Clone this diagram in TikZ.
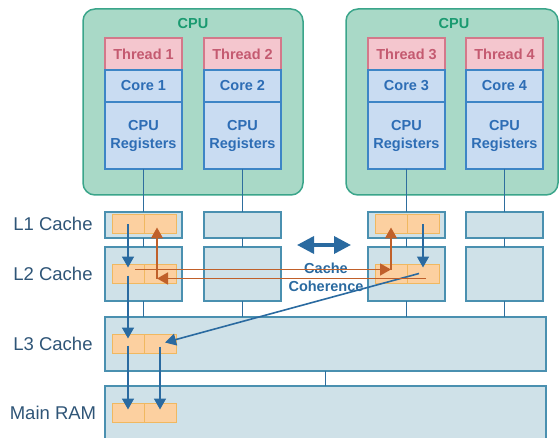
\documentclass[tikz,border=0pt]{standalone}
\usepackage{fontspec}
\setmainfont{Liberation Sans}
\usetikzlibrary{arrows.meta,calc}

\definecolor{cpufill}{HTML}{A9D9C7}
\definecolor{cpuline}{HTML}{3AA58A}
\definecolor{cputext}{HTML}{1A9A70}
\definecolor{thrfill}{HTML}{F4C6CE}
\definecolor{thrline}{HTML}{D4788A}
\definecolor{thrtext}{HTML}{C45A70}
\definecolor{corefill}{HTML}{C9DCF2}
\definecolor{coreline}{HTML}{3D85C6}
\definecolor{coretext}{HTML}{2D6DB5}
\definecolor{cachefill}{HTML}{CFE1E8}
\definecolor{cacheline}{HTML}{4A90B0}
\definecolor{linkline}{HTML}{2E6E9E}
\definecolor{cellfill}{HTML}{FCD0A0}
\definecolor{cellline}{HTML}{F0B860}
\definecolor{bluearrow}{HTML}{2A6AA0}
\definecolor{orangearrow}{HTML}{C0602A}
\definecolor{labeltext}{HTML}{2F5577}

\begin{document}
\begin{tikzpicture}[x=1pt,y=-1pt,
  every node/.style={inner sep=0pt,outer sep=0pt},
  cpubox/.style={draw=cpuline,fill=cpufill,line width=1.5pt,rounded corners=12pt},
  cpulabel/.style={text=cputext,font=\fontsize{14.5}{18}\selectfont\bfseries},
  thrbox/.style={draw=thrline,fill=thrfill,line width=1.3pt,minimum width=77pt,minimum height=32pt,anchor=north west,
    text=thrtext,font=\fontsize{14.5}{18}\selectfont\bfseries},
  corebox/.style={draw=coreline,fill=corefill,line width=1.3pt,minimum width=77pt,minimum height=32pt,anchor=north west,
    text=coretext,font=\fontsize{14.5}{18}\selectfont\bfseries},
  regbox/.style={corebox,minimum height=67pt,align=center},
  l1box/.style={draw=cacheline,fill=cachefill,line width=1.3pt,minimum width=77pt,minimum height=26pt,anchor=north west},
  l2box/.style={l1box,minimum height=54pt},
  bigbox/.style={draw=cacheline,fill=cachefill,line width=1.3pt,minimum width=441pt,anchor=north west},
  cell/.style={draw=cellline,fill=cellfill,line width=1pt,minimum width=32pt,minimum height=19pt,anchor=north west},
  link/.style={draw=linkline,line width=1.4pt},
  levellabel/.style={text=labeltext,font=\fontsize{18.5}{22}\selectfont},
  blueflow/.style={draw=bluearrow,line width=1.6pt,-{Triangle[width=12pt,length=11pt]}},
  orangeflow/.style={draw=orangearrow,line width=1.6pt,-{Triangle[width=12pt,length=11pt]}},
  cohtext/.style={text=bluearrow,font=\fontsize{14.5}{18}\selectfont\bfseries,align=center}
]
\useasboundingbox (0,0) rectangle (559,438);

% CPU packages
\draw[cpubox] (83,9) rectangle (303,195);
\draw[cpubox] (346,9) rectangle (558,195);
\node[cpulabel] (cpuA) at (193,24) {CPU};
\node[cpulabel] (cpuB) at (454,24) {CPU};

% threads, cores and registers
\foreach \i/\x in {1/105,2/204,3/368,4/466}{
  \node[thrbox] (thr\i) at (\x,38) {Thread \i};
  \node[corebox] (core\i) at (\x,70) {Core \i};
  \node[regbox] (reg\i) at (\x,102) {CPU\\Registers};
}

% private L1 / L2 caches
\foreach \i/\x in {1/105,2/204,3/368,4/466}{
  \node[l1box] (l1\i) at (\x,212) {};
  \node[l2box] (l2\i) at (\x,247) {};
}

% shared L3 and main memory
\node[bigbox,minimum height=54pt] (l3) at (105,317) {};
\node[bigbox,minimum height=70pt] (ram) at (105,386) {};

% links between the levels
\foreach \i in {1,2,3,4}{
  \draw[link] (reg\i.south) -- (l1\i.north);
  \draw[link] (l1\i.south) -- (l2\i.north);
  \draw[link] (l2\i.south) -- (l2\i.south |- l3.north);
}
\draw[link] (l3.south) -- (ram.north);

% cache lines holding the shared data
\node[cell] (c11) at (112,215) {};
\node[cell] (c12) at (144,215) {};
\node[cell] (c21) at (112,264) {};
\node[cell] (c22) at (144,264) {};
\node[cell] (d11) at (375,215) {};
\node[cell] (d12) at (407,215) {};
\node[cell] (d21) at (375,264) {};
\node[cell] (d22) at (407,264) {};
\node[cell] (c31) at (112,334) {};
\node[cell] (c32) at (144,334) {};
\node[cell] (m1) at (112,403) {};
\node[cell] (m2) at (144,403) {};

% level names
\node[levellabel] (lab1) at (53,224) {L1 Cache};
\node[levellabel] (lab2) at (53,274) {L2 Cache};
\node[levellabel] (lab3) at (53,344) {L3 Cache};
\node[levellabel] (lab4) at (53,413) {Main RAM};

% coherence marker
\node[cohtext] (coh) at (326,277) {Cache\\Coherence};
\coordinate (ccl) at (297,245);
\coordinate (ccr) at (351,245);
\draw[draw=bluearrow,line width=3.5pt,{Triangle[width=17pt,length=17pt]}-{Triangle[width=17pt,length=17pt]}] (ccl) -- (ccr);

% write-back flow (blue)
\draw[blueflow] (c11.center) -- ($(c21.center)+(0,-6)$);
\draw[blueflow] ($(c21.center)+(0,2)$) -- ($(c31.center)+(0,-5)$);
\draw[blueflow] ($(c31.center)+(0,2)$) -- ($(m1.center)+(0,-3)$);
\draw[blueflow] ($(c32.center)+(0,3)$) -- ($(m2.center)+(0,-3)$);
\draw[blueflow] (d12.center) -- ($(d22.center)+(0,-6)$);
\draw[blueflow] ($(d22.center)+(-4,0)$) -- ($(c32.center)+(5,-1)$);

% coherence traffic (orange)
\coordinate (oc1) at ($(d21.center)+(0,-4)$);
\coordinate (oc2) at ($(c22.center)+(-3,5)$);
\draw[orangeflow] ($(c21.center)+(7,-4)$) -- (oc1);
\draw[orangeflow] (oc1) -- ($(d11.center)+(0,3)$);
\draw[orangeflow] ($(d22.center)+(3,5)$) -- (oc2);
\draw[orangeflow] (oc2) -- ($(c12.center)+(-3,3)$);
\end{tikzpicture}
\end{document}
